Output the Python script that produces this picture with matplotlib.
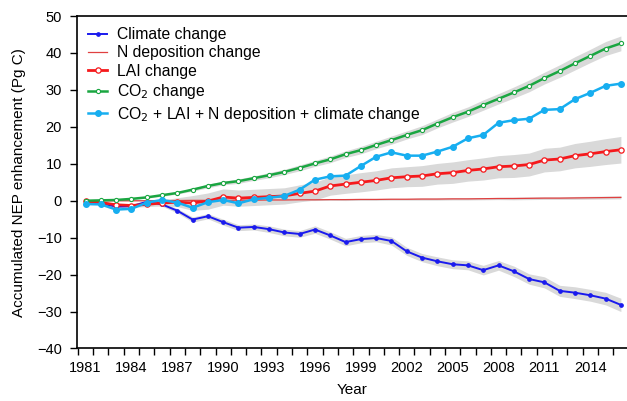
import matplotlib
matplotlib.use("Agg")
import matplotlib.pyplot as plt
import numpy as np

plt.rcParams["font.family"] = ["Liberation Sans", "DejaVu Sans"]

years = list(range(1981, 2017))

climate = [-0.7, -0.7, -1.6, -1.5, -0.3, -1.0, -2.7, -5.1, -4.2, -5.8,
           -7.3, -7.1, -7.7, -8.6, -9.0, -7.8, -9.4, -11.2, -10.4, -10.1,
           -10.9, -13.7, -15.4, -16.4, -17.2, -17.5, -18.8, -17.5, -19.1, -21.2,
           -22.1, -24.4, -24.9, -25.6, -26.5, -28.2]
climate_err = [0.2, 0.3, 0.4, 0.4, 0.5, 0.5, 0.6, 0.7, 0.7, 0.8,
               0.8, 0.8, 0.9, 0.9, 0.9, 1.0, 1.0, 1.0, 1.0, 1.0,
               1.1, 1.1, 1.1, 1.2, 1.2, 1.2, 1.3, 1.3, 1.4, 1.4,
               1.5, 1.5, 1.6, 1.6, 1.7, 1.8]

ndep = [0.0, 0.0, 0.0, 0.0, 0.0, 0.05, 0.05, 0.1, 0.1, 0.1,
        0.15, 0.15, 0.2, 0.2, 0.25, 0.25, 0.3, 0.3, 0.35, 0.35,
        0.4, 0.4, 0.45, 0.45, 0.5, 0.5, 0.55, 0.6, 0.6, 0.65,
        0.7, 0.7, 0.75, 0.8, 0.85, 0.9]
ndep_err = [0.1, 0.1, 0.1, 0.1, 0.1, 0.1, 0.1, 0.15, 0.15, 0.15,
            0.15, 0.15, 0.2, 0.2, 0.2, 0.2, 0.2, 0.25, 0.25, 0.25,
            0.25, 0.25, 0.3, 0.3, 0.3, 0.3, 0.3, 0.3, 0.35, 0.35,
            0.35, 0.35, 0.4, 0.4, 0.4, 0.4]

lai = [-0.1, -0.5, -1.1, -1.3, -1.0, -0.6, -0.4, -0.6, -0.1, 1.0,
       0.7, 0.9, 1.1, 1.3, 2.0, 2.6, 4.0, 4.5, 5.0, 5.5,
       6.2, 6.5, 6.7, 7.3, 7.6, 8.2, 8.6, 9.2, 9.4, 9.8,
       11.0, 11.3, 12.2, 12.7, 13.3, 13.8]
lai_err = [0.2, 0.3, 0.4, 0.5, 0.6, 0.8, 1.2, 2.0, 2.2, 2.2,
           2.2, 2.2, 2.2, 2.2, 2.3, 2.4, 2.5, 2.5, 2.6, 2.6,
           2.7, 2.7, 2.8, 2.8, 2.9, 2.9, 3.0, 3.0, 3.1, 3.1,
           3.2, 3.2, 3.3, 3.4, 3.5, 3.6]

co2 = [0.0, 0.1, 0.2, 0.5, 0.9, 1.5, 2.1, 3.0, 4.0, 4.8,
       5.3, 6.1, 6.9, 7.8, 8.9, 10.1, 11.2, 12.6, 13.7, 15.1,
       16.4, 17.8, 19.1, 20.9, 22.6, 24.1, 25.9, 27.6, 29.3, 31.1,
       33.2, 35.1, 37.2, 39.2, 41.2, 42.6]
co2_err = [0.0, 0.1, 0.1, 0.2, 0.2, 0.3, 0.3, 0.4, 0.5, 0.5,
           0.6, 0.6, 0.7, 0.7, 0.8, 0.8, 0.9, 0.9, 1.0, 1.0,
           1.1, 1.1, 1.2, 1.2, 1.3, 1.3, 1.4, 1.4, 1.5, 1.6,
           1.6, 1.7, 1.8, 1.8, 1.9, 2.0]

combined = [-0.9, -1.0, -2.4, -2.2, -0.5, 0.2, -0.5, -1.9, -0.4, 0.2,
            -0.7, 0.4, 0.8, 1.3, 3.0, 5.7, 6.6, 6.8, 9.4, 11.9,
            13.1, 12.2, 12.2, 13.3, 14.6, 16.9, 17.8, 21.1, 21.8, 22.2,
            24.6, 24.8, 27.5, 29.2, 31.1, 31.7]

tick_years = [1981, 1984, 1987, 1990, 1993, 1996, 1999, 2002, 2005, 2008, 2011, 2014]

fig = plt.figure(figsize=(6.27, 4.01), dpi=100)
ax = fig.add_axes([0.123, 0.131, 0.877, 0.829])

band = "#d9d9d9"
yr = np.array(years)
for vals, err in [(climate, climate_err), (ndep, ndep_err), (lai, lai_err), (co2, co2_err)]:
    v = np.array(vals)
    e = np.array(err)
    ax.fill_between(yr, v - e, v + e, color=band, lw=0, zorder=1)

ax.plot(years, climate, color="#1a1aee", lw=1.4, marker="o", ms=2.4,
        label="Climate change", zorder=3)
ax.plot(years, ndep, color="#e04040", lw=0.9, label="N deposition change", zorder=3)
ax.plot(years, lai, color="#f5191c", lw=2.0, marker="o", ms=3.8, mfc="white",
        mec="#f5191c", mew=0.9, label="LAI change", zorder=4)
ax.plot(years, co2, color="#1aa641", lw=1.8, marker="o", ms=3.0, mfc="white",
        mec="#1aa641", mew=0.8, label="CO$_2$ change", zorder=4)
ax.plot(years, combined, color="#17aef0", lw=1.8, marker="o", ms=4.0,
        label="CO$_2$ + LAI + N deposition + climate change", zorder=5)

ax.set_xlim(1980.45, 2016.4)
ax.set_ylim(-40, 50)
ax.set_yticks(range(-40, 51, 10))
ax.set_yticklabels([str(t).replace("-", "\u2212") for t in range(-40, 51, 10)])
ax.set_xticks(tick_years)
ax.set_xticklabels([str(t) for t in tick_years])
ax.set_xticks([y - 0.5 for y in years], minor=True)
ax.tick_params(axis="x", which="major", length=0, pad=9, labelsize=10.5)
ax.tick_params(axis="x", which="minor", length=5, width=1.0, direction="out")
ax.tick_params(axis="y", length=5, width=1.0, direction="out", labelsize=10.5, pad=6)

ax.spines["right"].set_visible(False)
for s in ["left", "bottom", "top"]:
    ax.spines[s].set_linewidth(1.2)

ax.set_xlabel("Year", fontsize=11, labelpad=6)
ax.set_ylabel("Accumulated NEP enhancement (Pg C)", fontsize=11, labelpad=8)

ax.legend(loc="upper left", frameon=False, fontsize=11.3, handlelength=1.2,
          handletextpad=0.65, labelspacing=0.22, borderaxespad=0.3,
          bbox_to_anchor=(0.0, 1.0))

fig.savefig("out.png", dpi=100)
